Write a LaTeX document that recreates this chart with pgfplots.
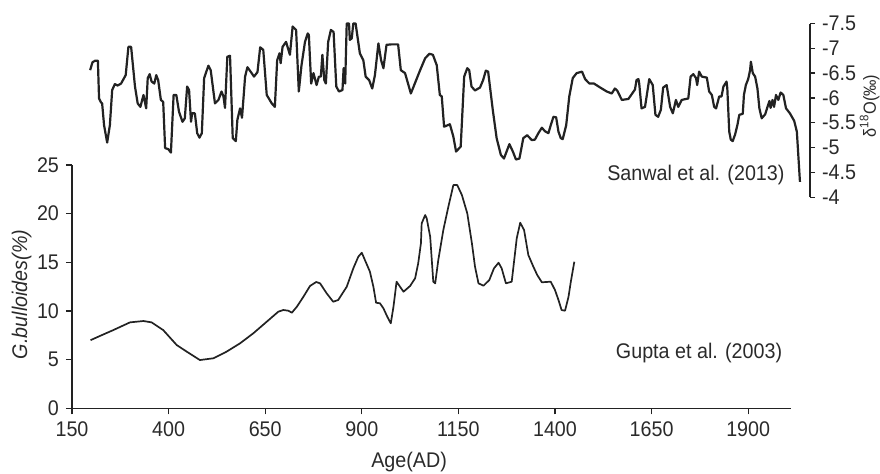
\documentclass[border=0pt]{standalone}
\usepackage{fontspec}
\setmainfont{Liberation Sans}[FakeStretch=0.93]
\usepackage{pgfplots}
\pgfplotsset{compat=1.18}
\definecolor{ink}{HTML}{222222}
\definecolor{txt}{HTML}{2A2A2A}
\newcommand{\fs}{\fontsize{10.6}{12}\selectfont}

\begin{document}
\begin{tikzpicture}[font=\fs]
\useasboundingbox (0,0) rectangle (440pt,236.5pt);

% G. bulloides (bottom)
\begin{axis}[
  at={(36pt,32.35pt)}, anchor=south west,
  scale only axis, width=359.35pt, height=121.65pt,
  xmin=150, xmax=2010, ymin=0, ymax=25,
  axis x line*=bottom, axis y line*=left,
  axis line style={ink, line width=0.65pt, -},
  tick style={ink, line width=0.65pt},
  tick align=outside, major tick length=3pt,
  xtick={150,400,650,900,1150,1400,1650,1900},
  xticklabels={150,400,650,900,1150,1400,1650,1900},
  ytick={0,5,10,15,20,25},
  yticklabels={0,5,10,15,20,25},
  tick label style={font=\fs, text=txt},
  label style={font=\fs, text=txt},
  xlabel={Age(AD)},
  xlabel style={at={(axis description cs:0.469,-0.2195)}, anchor=center},
  ylabel={\textit{G.bulloides(\%)}},
  ylabel style={at={(axis description cs:-0.07,0.468)}, anchor=center},
  clip=false]
\addplot[ink, line width=0.85pt, line join=round] coordinates {
(198,7.0)(222,7.43)(257,8.04)(300,8.83)(335,8.97)(356,8.83)(386,8.04)(421,6.5)
(447,5.82)(481,4.96)(516,5.14)(550,5.82)(585,6.68)(619,7.7)(654,8.9)(684,9.93)
(697,10.1)(710,10.03)(719,9.82)(732,10.44)(749,11.47)(766,12.57)(782,12.98)(792,12.84)
(809,11.82)(826,10.95)(839,11.13)(861,12.49)(878,14.38)(891,15.58)(900,15.99)(908,15.24)
(921,14.04)(930,12.49)(937,10.85)(947,10.79)(956,10.27)(966,9.41)(975,8.73)(982,10.44)
(990,13.01)(999,12.49)(1008,11.98)(1025,12.57)(1038,13.36)(1046,14.9)(1053,16.95)(1055,19.0)
(1064,19.86)(1068,19.52)(1077,17.63)(1085,13.01)(1090,12.84)(1098,15.24)(1111,18.32)(1124,20.71)
(1137,22.94)(1147,22.94)(1159,21.92)(1173,20.03)(1185,16.95)(1193,14.55)(1202,12.84)(1215,12.6)
(1230,13.18)(1242,14.38)(1254,14.96)(1262,14.38)(1273,12.84)(1288,13.01)(1301,17.47)(1310,19.07)
(1320,18.32)(1331,15.75)(1344,14.55)(1354,13.7)(1366,12.95)(1389,13.01)(1400,12.15)(1409,11.13)
(1417,10.1)(1426,10.03)(1435,11.47)(1441,13.01)(1450,15.06)
};
\node[anchor=east, text=txt, inner sep=0pt] at (axis cs:1995,23.97) {Sanwal et al. (2013)};
\node[anchor=east, text=txt, inner sep=0pt] at (axis cs:1989,5.65) {Gupta et al. (2003)};
\end{axis}

% delta 18O (top, right axis, reversed)
\begin{axis}[
  at={(36pt,137.9pt)}, anchor=south west,
  scale only axis, width=369pt, height=86.85pt,
  xmin=150, xmax=2060, ymin=-7.5, ymax=-4, y dir=reverse,
  axis x line=none, axis y line*=right, xtick=\empty,
  axis line style={ink, line width=0.65pt, -},
  tick style={ink, line width=0.65pt},
  tick align=outside, major tick length=2.5pt,
  ytick={-7.5,-7,-6.5,-6,-5.5,-5,-4.5,-4},
  yticklabels={-7.5,-7,-6.5,-6,-5.5,-5,-4.5,-4},
  tick label style={font=\fs, text=txt},
  label style={font=\fs, text=txt},
  ylabel={δ\textsuperscript{18}O(‰)},
  ylabel style={at={(axis description cs:1.0894,0.525)}, anchor=base, inner sep=0pt,
    font=\fontsize{8.8}{10}\selectfont},
  clip=false]
\addplot[ink, line width=1.1pt, line join=round] coordinates {
(197,-6.56)(203,-6.72)(210,-6.75)(217,-6.75)(220,-5.99)(225,-5.91)(228,-5.89)(233,-5.45)
(241,-5.10)(248,-5.45)(254,-6.16)(261,-6.28)(268,-6.25)(277,-6.29)(289,-6.46)(296,-7.03)
(303,-7.03)(313,-6.23)(320,-5.89)(327,-5.82)(335,-6.06)(342,-5.79)(346,-6.40)(351,-6.48)
(356,-6.33)(363,-6.29)(368,-6.46)(373,-6.36)(380,-5.96)(386,-5.92)(391,-4.99)(399,-4.97)
(406,-4.90)(413,-6.06)(420,-6.06)(427,-5.72)(436,-5.52)(442,-5.59)(448,-6.23)(453,-6.16)
(458,-5.52)(461,-5.69)(468,-5.69)(474,-5.29)(480,-5.20)(486,-5.29)(492,-6.40)(503,-6.65)
(509,-6.56)(520,-5.89)(529,-5.96)(537,-6.13)(542,-6.03)(546,-5.80)(552,-6.83)(559,-6.85)
(566,-5.19)(574,-5.13)(578,-5.56)(585,-5.79)(590,-5.60)(598,-6.43)(604,-6.62)(615,-6.50)
(621,-6.43)(630,-6.52)(637,-7.02)(645,-6.97)(654,-6.06)(667,-5.89)(675,-5.82)(681,-6.76)
(687,-6.90)(690,-6.70)(695,-7.03)(704,-7.13)(714,-6.87)(721,-7.44)(730,-7.37)(737,-6.13)
(744,-6.66)(753,-7.13)(760,-7.30)(763,-7.27)(769,-6.29)(775,-6.50)(783,-6.26)(789,-6.43)
(794,-6.43)(798,-6.87)(803,-6.36)(807,-6.29)(813,-7.13)(820,-7.37)(827,-7.33)(834,-6.23)
(841,-6.13)(850,-6.16)(853,-6.60)(857,-6.29)(861,-7.50)(867,-7.50)(869,-7.17)(874,-7.20)
(878,-7.50)(884,-7.50)(895,-6.90)(904,-6.76)(910,-6.43)(919,-6.36)(927,-6.19)(934,-6.46)
(943,-7.10)(950,-6.76)(956,-6.60)(964,-7.07)(977,-7.08)(994,-7.08)(1001,-6.56)(1012,-6.50)
(1027,-6.09)(1051,-6.56)(1064,-6.80)(1075,-6.89)(1084,-6.87)(1094,-6.66)(1102,-6.06)(1107,-6.03)
(1113,-5.42)(1128,-5.47)(1137,-5.22)(1144,-4.92)(1156,-5.02)(1165,-6.43)(1173,-6.60)(1178,-6.56)
(1184,-6.23)(1193,-6.15)(1206,-6.21)(1214,-6.36)(1221,-6.55)(1227,-6.53)(1239,-5.76)(1249,-5.19)
(1260,-4.85)(1268,-4.78)(1282,-5.07)(1291,-4.92)(1299,-4.76)(1308,-4.78)(1318,-5.19)(1328,-5.25)
(1340,-5.15)(1348,-5.16)(1357,-5.29)(1366,-5.40)(1374,-5.33)(1383,-5.29)(1389,-5.45)(1396,-5.62)
(1403,-5.61)(1409,-5.32)(1415,-5.19)(1420,-5.17)(1429,-5.45)(1437,-6.03)(1446,-6.40)(1456,-6.50)
(1470,-6.53)(1478,-6.38)(1489,-6.29)(1501,-6.29)(1517,-6.21)(1534,-6.13)(1547,-6.09)(1555,-6.19)
(1561,-6.15)(1573,-5.96)(1590,-5.98)(1607,-6.17)(1611,-6.36)(1616,-6.38)(1618,-6.29)(1624,-5.79)
(1633,-5.82)(1644,-6.38)(1653,-6.26)(1660,-5.66)(1667,-5.62)(1674,-5.76)(1680,-6.21)(1689,-6.26)
(1698,-5.82)(1705,-5.69)(1713,-5.96)(1719,-5.82)(1728,-5.96)(1745,-5.99)(1751,-6.43)(1758,-6.48)
(1765,-6.40)(1768,-6.26)(1773,-6.53)(1780,-6.43)(1793,-6.41)(1799,-6.13)(1806,-6.06)(1812,-5.82)
(1817,-5.79)(1825,-6.03)(1831,-6.03)(1836,-6.23)(1844,-6.33)(1846,-6.19)(1851,-5.32)(1855,-5.16)
(1860,-5.13)(1866,-5.26)(1872,-5.45)(1877,-5.66)(1886,-5.68)(1889,-6.06)(1894,-6.26)(1900,-6.38)
(1905,-6.56)(1907,-6.73)(1912,-6.50)(1918,-6.43)(1924,-6.19)(1929,-5.79)(1935,-5.59)(1944,-5.67)
(1950,-5.82)(1955,-5.94)(1958,-5.80)(1963,-5.96)(1967,-5.82)(1972,-6.06)(1978,-5.96)(1984,-6.11)
(1991,-6.06)(1998,-5.79)(2008,-5.69)(2019,-5.54)(2026,-5.32)(2034,-4.31)
};
\end{axis}
\end{tikzpicture}
\end{document}
